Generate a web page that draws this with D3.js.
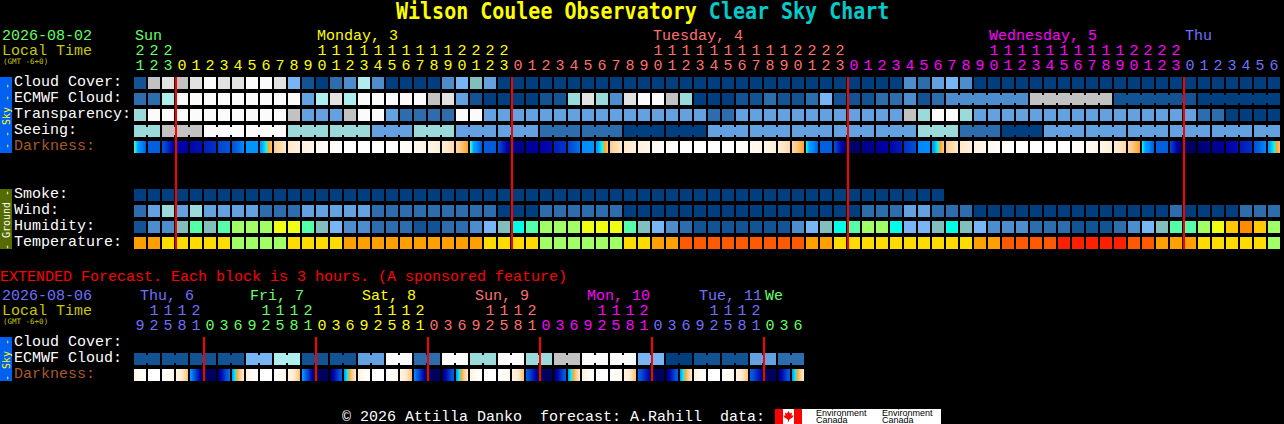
<!DOCTYPE html>
<html>
<head>
<meta charset='utf-8'>
<title>Wilson Coulee Observatory Clear Sky Chart</title>
<script src='https://d3js.org/d3.v7.min.js'></script>
<style>
    body { margin: 0; background: #000; }
    svg { display: block; }
    text { font-family: "Liberation Mono", monospace; font-size: 15px; white-space: pre; }
    text.mono { font-family: "DejaVu Sans Mono", monospace; }
</style>
</head>
<body>
<div id='chart'></div>
<script>

// hours along the top of each table
var hours = [21,22,23,
    0,1,2,3,4,5,6,7,8,9,10,11,12,13,14,15,16,17,18,19,20,21,22,23,
    0,1,2,3,4,5,6,7,8,9,10,11,12,13,14,15,16,17,18,19,20,21,22,23,
    0,1,2,3,4,5,6,7,8,9,10,11,12,13,14,15,16,17,18,19,20,21,22,23,
    0,1,2,3,4,5,6];
var extHours = [9,12,15,18,21,
    0,3,6,9,12,15,18,21, 0,3,6,9,12,15,18,21, 0,3,6,9,12,15,18,21,
    0,3,6,9,12,15,18,21, 0,3,6,9,12,15,18,21, 0,3,6];

var dayNames = ['Sun', 'Monday, 3', 'Tuesday, 4', 'Wednesday, 5', 'Thu'];
var dayStarts = [0, 13, 37, 61, 75];
var extDayNames = ['Thu, 6', 'Fri, 7', 'Sat, 8', 'Sun, 9', 'Mon, 10', 'Tue, 11', 'We'];
var dayColors = ['#66ff66', '#ffff00', '#ff7070', '#ff00ff', '#7070ff'];
var extDayColors = ['#7070ff', '#66ff66', '#ffff00', '#ff7070', '#ff00ff', '#7070ff', '#66ff66'];

// sky levels, 0 = clear blue, 11 = white
var skyPalette = ['#003f7f','#135393','#2e6dad','#4d8dcd','#63a1e1','#77b5f5','#81bfbf','#9adada','#aeeeee','#c2c2c2','#e2e2e2','#fbfbfb'];
var humPalette = ['#003f7f','#135393','#2e6dad','#4d8dcd','#63a1e1','#77b5f5','#81bfbf','#00ffe6','#55ffaa','#a0ff64','#eeff14','#ffc800','#ff8c00'];
var tempPalette = ['#a0ff64','#ffdc00','#ffa000','#ff5a00','#ff2000'];

var cloudCover = [1,9,10,9,10,11,10,10,11,11,10,5,1,0,2,3,8,3,0,0,0,0,3,5,6,4,
    0,0,0,0,0,0,0,0,0,0,0,0,0,0,0,0,0,0,0,0,0,0,0,0,0,0,0,0,0,
    3,2,4,5,3,
    0,0,0,0,0,0,0,0,0,0,0,0,0,0,0,0,0,0,0,0,0,0];
var ecmwfCloud = [2,2,8,11,11,11,11,11,11,11,11,11,4,8,10,8,11,11,11,11,11,9,10,4,1,0,0,0,0,1,1,7,10,7,3,10,11,11,9,7,0,0,0,1,1,2,1,1,2,5,1,1,1,2,2,3,1,2,
    3,3,3,3,3,3,9,9,9,9,9,9,1,1,1,1,1,1,0,0,0,0,0,0];
var ecmwfSpans = [1,1,1,1,1,1,1,1,1,1,1,1,1,1,1,1,1,1,1,1,1,1,1,1,1,1,1,1,1,1,1,1,1,1,1,1,1,1,1,1,1,1,1,1,1,1,1,1,1,1,1,1,1,1,1,1,1,1,6,6,6,6];
var transparency = [7,11,11,11,11,11,11,11,11,11,11,9,4,4,4,9,11,11,4,2,2,2,2,11,11,4,4,4,4,4,4,4,4,4,4,4,4,4,4,4,4,2,2,4,4,4,4,4,4,4,4,4,4,4,4,9,7,11,11,7,4,4,4,4,4,4,4,4,4,4,4,4,4,4,4,4,2,2,0,0,0,0];
var seeingValues = [7,9,11,11,7,7,4,7,4,4,2,2,0,0,4,4,4,4,4,7,2,0,4,4,4,4,4,4];
var seeingSpans = [2,3,3,3,3,3,3,3,3,3,3,3,3,3,3,3,3,3,3,3,3,3,3,3,3,3,3,2];

// darkness at the left and right edge of each block, in limiting magnitude
var darkFrom = [0.12,3,3.5,6,5.8,5,4,3.5,1.5,1.2,-0.8,-1.6,-2.3,-3,-3.6,-4,-4,-4,-4,-3.8,-3.2,-2.6,-1.8,-1,
    0.12,3.2,3.8,6.5,6.3,6,5,4,1.8,1.2,-0.8,-1.6,-2.3,-3,-3.6,-4,-4,-4,-4,-3.8,-3.2,-2.6,-1.8,-1,
    0.35,3,3.8,7,6.5,6.2,5.8,4.5,2,1.2,-0.8,-1.6,-2.3,-3,-3.6,-4,-4,-4,-4,-3.8,-3.2,-2.6,-1.8,-1,
    0.4,3,4,7.2,6.8,6.5,6,5.2,3.5,1.2];
var darkTo = [3,3,6,6,5.5,4.6,3.5,2,1.5,-0.5,-1.5,-2.2,-2.8,-3.5,-3.9,-4,-4,-4,-3.8,-3.4,-2.8,-2,-1.1,-0.1,
    3.2,3.2,6.5,6.5,6.2,5.7,4.5,2.5,1.5,-0.5,-1.5,-2.2,-2.8,-3.5,-3.9,-4,-4,-4,-3.8,-3.4,-2.8,-2,-1.1,-0.1,
    3,3,7,6.8,6.5,6,5.2,3.8,1.8,-0.6,-1.5,-2.2,-2.8,-3.5,-3.9,-4,-4,-4,-3.8,-3.4,-2.8,-2,-1.1,-0.1,
    3,3,7.2,7,6.6,6.3,5.6,4.6,2,-0.5];

var smoke = [0,0,0,0,0,0,0,0,0,0,0,0,0,0,0,0,0,0,0,0,0,0,0,0,0,0,0,0,0,0,0,0,0,0,0,0,0,0,0,0,0,0,0,0,0,0,0,0,0,0,0,0,0,0,0,0,0,0];
var wind = [2,4,7,4,7,4,4,4,4,2,2,2,4,4,4,4,4,2,2,2,2,2,2,2,2,2,0,0,0,2,2,2,2,2,2,0,0,0,0,0,0,0,0,0,0,0,0,0,0,0,0,0,2,2,2,4,4,2,2,2,0,0,0,0,0,0,0,0,0,0,0,0,0,0,2,0,0,0,0,2,2,2];
var humidity = [1,3,3,6,8,6,8,9,9,9,10,10,8,6,5,3,3,2,2,2,1,1,2,2,3,5,6,7,8,9,9,9,10,10,10,8,6,5,3,2,1,1,1,1,1,1,1,3,5,6,7,8,9,9,7,5,5,6,7,6,5,3,3,3,2,2,2,1,1,1,2,3,5,6,8,8,9,10,11,12,11,9];
var temperature = [2,2,1,1,1,1,1,0,0,0,0,1,1,1,1,2,2,2,2,2,2,2,2,2,2,1,1,1,1,0,0,0,0,0,0,1,1,2,2,3,3,3,3,3,3,3,3,3,2,2,1,1,1,1,1,1,1,1,1,1,2,2,3,3,3,3,4,4,4,4,4,3,3,2,2,2,1,1,1,1,1,0];

// extended forecast, 3 hour blocks
var extEcmwfValues = [1,1,1,1,5,8,1,1,4,11,2,11,7,11,7,9,11,11,5,0,1,1,4,2];
var extEcmwfSpans = [2,2,2,2,2,2,2,2,2,2,2,2,2,2,2,2,2,2,2,2,2,2,2,2];
var extDarkFrom = [-2.6,-4,-4,-2.6,1.5,7,6.8,1, -2.4,-4,-4,-2.6,1.5,7,7,1, -2.4,-4,-4,-2.6,2,7,7,1,
    -2.4,-4,-4,-2.6,3,7,7,1, -2.4,-4,-4,-2.6,3,7,7,1, -2.4,-4,-4,-2.6,3,7,7,1];
var extDarkTo = [-4,-4,-3,-0.6,6.8,7,2.5,-1.6, -4,-4,-3,-0.6,6.6,7,3,-1.5, -4,-4,-3,-0.6,6.6,7,3,-1.5,
    -4,-4,-3,-0.6,6.5,7,3,-1.5, -4,-4,-3,-0.6,6,7,3,-1.5, -4,-4,-3,-0.6,6,7,3,-1.5];

var darkColor = d3.scaleLinear()
    .domain([-4, -2.5, -1.5, -0.7, 0, 0.12, 0.4, 1, 2, 3, 4, 5, 6, 6.5, 7])
    .range(['#ffffff','#fff4e4','#ffe8c8','#ffc888','#ffa020','#70e090','#00f0ff','#00a0ff','#0088ff','#0060e0','#0048d0','#0020c0','#0000a8','#000090','#000060'])
    .clamp(true);

const cellW = 12, cellH = 12;
var x = d3.scaleLinear().domain([0, 1]).range([134, 148]);

var svg = d3.select('#chart').append('svg')
    .attr('width', 1284)
    .attr('height', 424);

svg.append('rect').attr('width', 1284).attr('height', 424).attr('fill', '#000');

function label(px, py, str, color, g) {
    return (g || svg).append('text')
        .attr('x', px).attr('y', py)
        .attr('fill', color)
        .text(str);
}

// turns block lengths into a list of "same block as the next cell"
function joins(spans) {
    var out = [];
    spans.forEach(function(s) {
        for (var k = 0; k < s; k++) out.push(k < s - 1);
    });
    return out;
}

function expand(values, spans) {
    return d3.merge(values.map(function(v, k) { return d3.range(spans[k]).map(function() { return v; }); }));
}

function drawRow(top, values, palette, joined) {
    var g = svg.append('g');
    g.selectAll('rect.cell').data(values).join('rect')
        .attr('class', 'cell')
        .attr('x', function(d, i) { return x(i); })
        .attr('y', top)
        .attr('width', cellW)
        .attr('height', cellH)
        .attr('fill', function(d) { return palette[d]; });
    if (joined) {
        g.selectAll('rect.join').data(values).join('rect')
            .attr('class', 'join')
            .attr('display', function(d, i) { return joined[i] ? null : 'none'; })
            .attr('x', function(d, i) { return x(i) + cellW; })
            .attr('y', top + 2)
            .attr('width', 2)
            .attr('height', cellH - 4)
            .attr('fill', function(d) { return palette[d]; });
    }
}

function drawDark(top, from, to) {
    var g = svg.append('g');
    from.forEach(function(f, i) {
        g.selectAll(null).data(d3.range(cellW)).enter().append('rect')
            .attr('x', function(k) { return x(i) + k; })
            .attr('y', top)
            .attr('width', 1)
            .attr('height', cellH)
            .attr('fill', function(k) { return darkColor(f + (to[i] - f) * k / (cellW - 1)); });
    });
}

function drawHours(tensY, onesY, hrs, colors) {
    var day = 0;
    hrs.forEach(function(h, i) {
        if (i > 0 && h < hrs[i - 1]) day++;
        var cx = x(i) + cellW / 2;
        label(cx, onesY, String(h % 10), colors[day]).attr('text-anchor', 'middle');
        if (h >= 10) label(cx, tensY, String(Math.floor(h / 10)), colors[day]).attr('text-anchor', 'middle');
    });
}

function sideBar(top, h, fill, str, textColor) {
    svg.append('rect').attr('x', 0).attr('y', top).attr('width', 12).attr('height', h).attr('fill', fill);
    svg.append('text')
        .attr('class', 'mono')
        .attr('transform', 'translate(9.5,' + (top + h / 2 + 1) + ') rotate(-90)')
        .attr('text-anchor', 'middle')
        .attr('fill', textColor)
        .style('font-size', '10px')
        .text(str);
}

function redLines(first, top, h, every, count) {
    svg.selectAll(null).data(d3.range(count)).enter().append('rect')
        .attr('x', function(k) { return x(first + k * every) - 1; })
        .attr('y', top)
        .attr('width', 2)
        .attr('height', h)
        .attr('fill', '#ff0000');
}

// title
var title = svg.append('text').attr('class', 'mono')
    .attr('transform', 'translate(396,19) scale(1,1.12)')
    .style('font-size', '20px').style('font-weight', 'bold');
title.append('tspan').attr('fill', '#ffff00').text('Wilson Coulee Observatory ');
title.append('tspan').attr('fill', '#00cccc').text('Clear Sky Chart');

// main table header
label(2, 40, '2026-08-02', '#66ff66');
label(2, 55, 'Local Time', '#c8c800');
label(3, 64, '(GMT -6+0)', '#c8c800').attr('class', 'mono').style('font-size', '7.5px');
dayNames.forEach(function(d, i) {
    label(x(dayStarts[i]) + 1, 40, d, dayColors[i]);
});
drawHours(55, 70, hours, dayColors);

// main table rows
var rowNames = ['Cloud Cover:', 'ECMWF Cloud:', 'Transparency:', 'Seeing:'];
rowNames.forEach(function(n, i) { label(14, 86 + i * 16, n, '#ffffff'); });
label(14, 150, 'Darkness:', '#a85a28');
drawRow(77, cloudCover, skyPalette);
drawRow(93, ecmwfCloud, skyPalette, joins(ecmwfSpans));
drawRow(109, transparency, skyPalette);
drawRow(125, expand(seeingValues, seeingSpans), skyPalette, joins(seeingSpans));
drawDark(141, darkFrom, darkTo);

var groundNames = ['Smoke:', 'Wind:', 'Humidity:', 'Temperature:'];
groundNames.forEach(function(n, i) { label(14, 198 + i * 16, n, '#ffffff'); });
drawRow(189, smoke, skyPalette);
drawRow(205, wind, skyPalette);
drawRow(221, humidity, humPalette);
drawRow(237, temperature, tempPalette);

sideBar(77, 76, '#0060f0', '- - Sky - -', '#ffff00');
sideBar(189, 60, '#556b00', '- Ground -', '#ffffff');
redLines(3, 77, 172, 24, 4);

// extended forecast
label(0, 281, 'EXTENDED Forecast. Each block is 3 hours. (A sponsored feature)', '#ff0000');
label(2, 300, '2026-08-06', '#7070ff');
label(2, 315, 'Local Time', '#c8c800');
label(3, 324, '(GMT -6+0)', '#c8c800').attr('class', 'mono').style('font-size', '7.5px');
var extDayX = [140, 250, 362, 475, 587, 699, 765];
extDayNames.forEach(function(d, i) { label(extDayX[i], 300, d, extDayColors[i]); });
drawHours(315, 330, extHours, extDayColors);

label(14, 346, 'Cloud Cover:', '#ffffff');
label(14, 362, 'ECMWF Cloud:', '#ffffff');
label(14, 378, 'Darkness:', '#a85a28');
drawRow(353, expand(extEcmwfValues, extEcmwfSpans), skyPalette, joins(extEcmwfSpans));
drawDark(369, extDarkFrom, extDarkTo);
sideBar(337, 44, '#0060f0', '- Sky -', '#ffff00');
redLines(5, 337, 44, 8, 6);

// footer
label(342, 421, '\u00a9 2026 Attilla Danko  forecast: A.Rahill  data:', '#ffffff');
svg.append('rect').attr('x', 775).attr('y', 409).attr('width', 166).attr('height', 15).attr('fill', '#ffffff');
svg.append('rect').attr('x', 775).attr('y', 409).attr('width', 8).attr('height', 15).attr('fill', '#ff0000');
svg.append('rect').attr('x', 794).attr('y', 409).attr('width', 8).attr('height', 15).attr('fill', '#ff0000');
svg.append('path').attr('fill', '#ff0000')
    .attr('d', 'M788.5 411 l1.5 2.5 2-1 -0.5 3 2 0 -1 2 -2.5 1.5 0 0.5 -1 0 0 2 -1 0 0 -2 -1 0 0 -0.5 -2.5 -1.5 -1 -2 2 0 -0.5 -3 2 1 z');
[816, 882].forEach(function(px) {
    ['Environment', 'Canada'].forEach(function(s, k) {
        svg.append('text').attr('x', px).attr('y', 416 + k * 7).attr('fill', '#000')
            .style('font-family', 'Liberation Sans').style('font-size', '9px').text(s);
    });
});

</script>
</body>
</html>
